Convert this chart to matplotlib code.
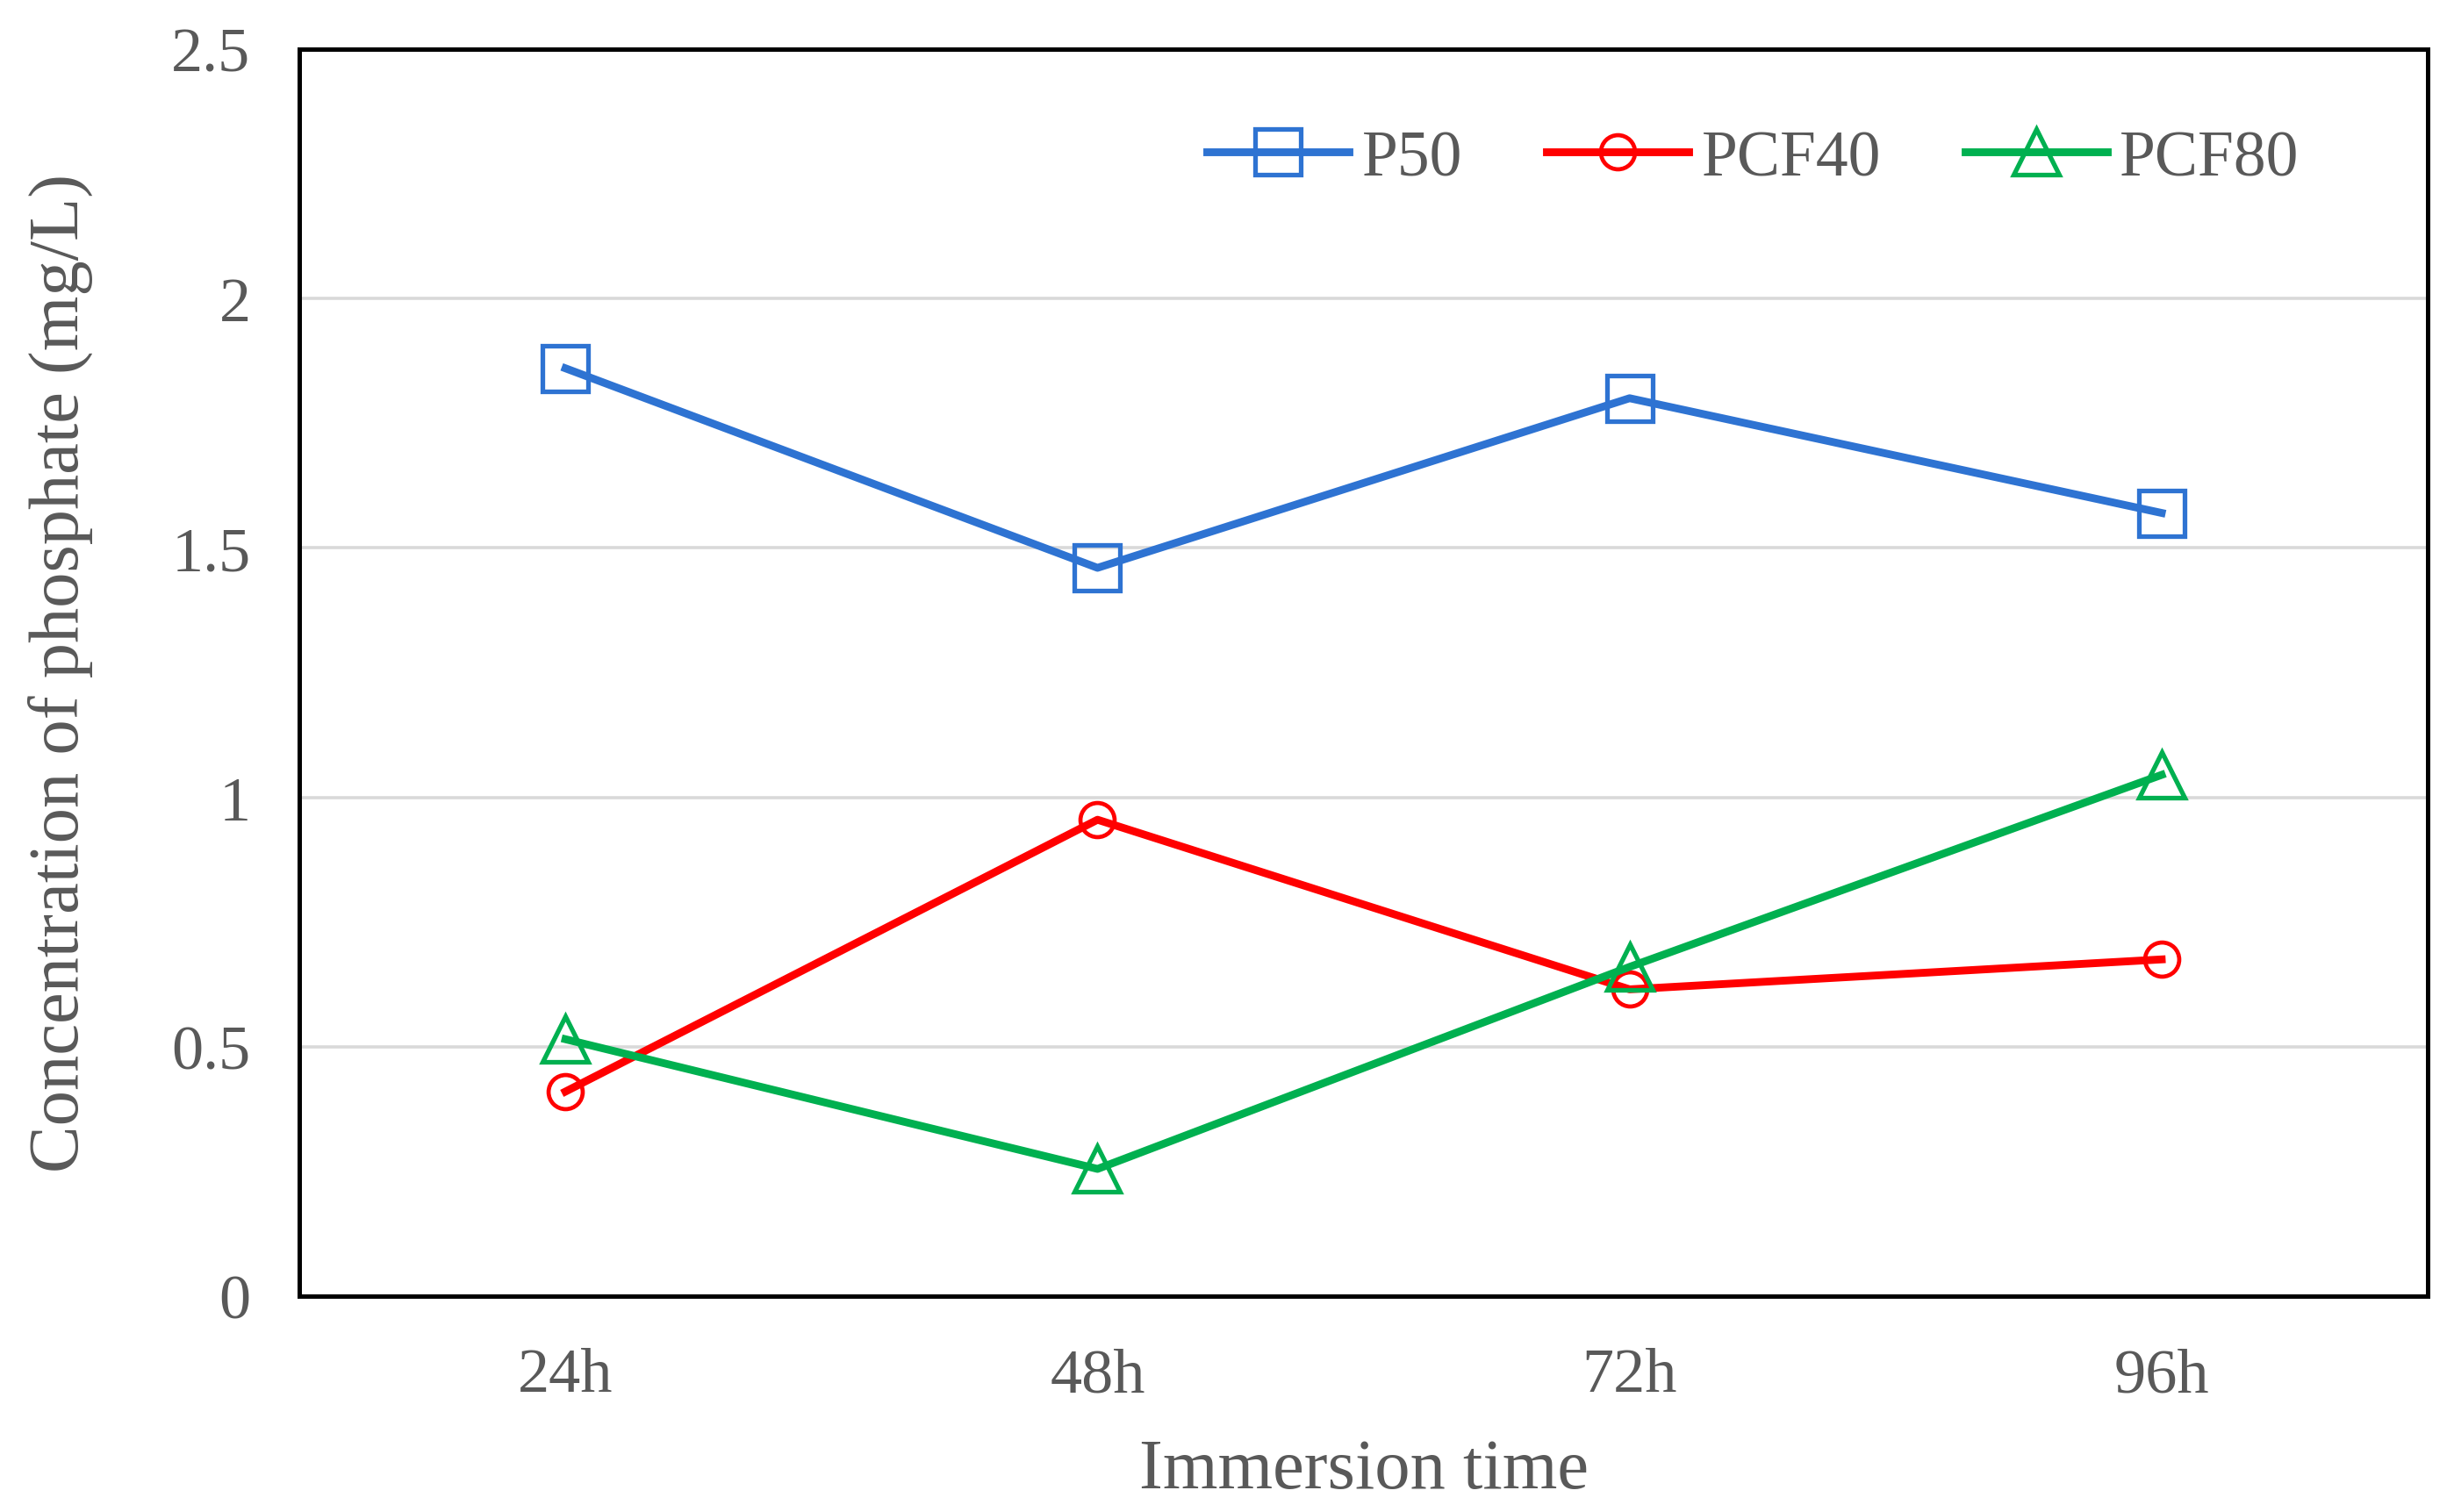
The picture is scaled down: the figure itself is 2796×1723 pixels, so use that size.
import matplotlib
matplotlib.use("Agg")
import matplotlib.pyplot as plt

categories = ["24h", "48h", "72h", "96h"]
p50 = [1.86, 1.46, 1.80, 1.57]
pcf40 = [0.41, 0.955, 0.615, 0.675]
pcf80 = [0.515, 0.255, 0.66, 1.045]
yticks = [0, 0.5, 1, 1.5, 2, 2.5]
ytick_labels = ["0", "0.5", "1", "1.5", "2", "2.5"]

plt.rcParams['font.family'] = ['Liberation Serif', 'DejaVu Serif']
grey = '#595959'

fig = plt.figure(figsize=(13.98, 8.62), dpi=200)
ax = fig.add_axes([0.122, 0.1427, 0.8673, 0.8243])

x = list(range(len(categories)))
ax.plot(x, p50, color='#2E73D2', lw=3.2, marker='s', ms=19, mfc='none',
        mec='#2E73D2', mew=1.9, label='P50')
ax.plot(x, pcf40, color='#FF0000', lw=3.2, marker='o', ms=14, mfc='none',
        mec='#FF0000', mew=1.7, label='PCF40')
ax.plot(x, pcf80, color='#00B050', lw=3.2, marker='^', ms=19, mfc='none',
        mec='#00B050', mew=1.9, label='PCF80')

ax.set_xlim(-0.5, 3.5)
ax.set_ylim(0, 2.5)
ax.set_xticks(x)
ax.set_xticklabels(categories)
ax.set_yticks(yticks)
ax.set_yticklabels(ytick_labels)
ax.tick_params(axis='both', length=0, labelsize=26, labelcolor=grey)
ax.tick_params(axis='x', pad=21)
ax.tick_params(axis='y', pad=20)
ax.yaxis.grid(True, color='#D9D9D9', lw=1.3)
ax.set_axisbelow(True)
for s in ax.spines.values():
    s.set_linewidth(1.8)
    s.set_color('black')

ax.set_xlabel('Immersion time', fontsize=29, color=grey, labelpad=14)
ax.set_ylabel('Concentration of phosphate (mg/L)', fontsize=29, color=grey, labelpad=32)

leg = ax.legend(loc='upper right', bbox_to_anchor=(0.967, 0.982), ncol=3, frameon=False,
                fontsize=26.5, handlelength=2.2, handletextpad=0.2, columnspacing=1.3,
                labelcolor=grey)

fig.savefig('out.png', dpi=200)
